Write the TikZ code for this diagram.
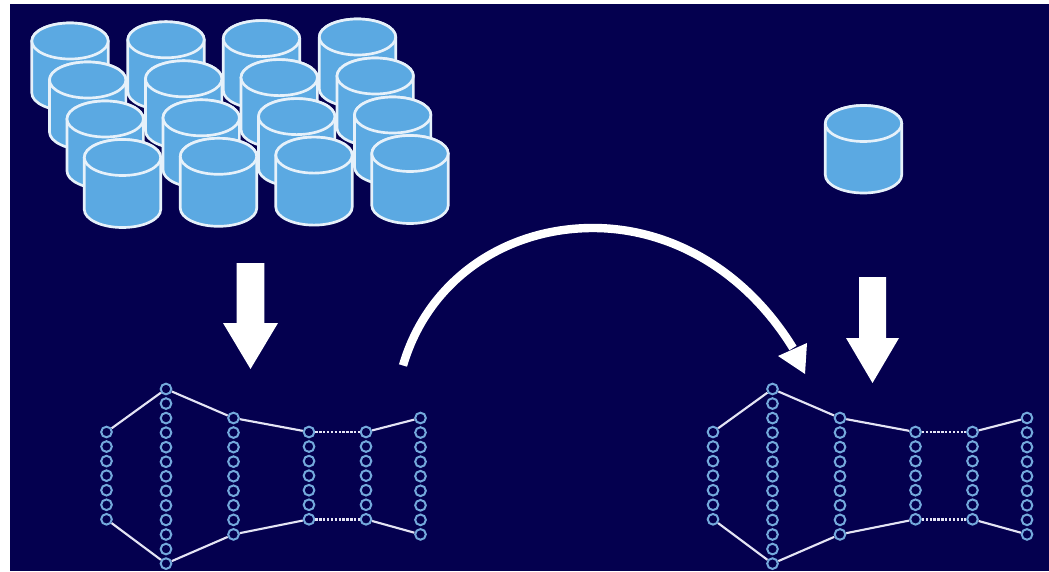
\documentclass[tikz,border=0pt]{standalone}
\definecolor{bgnavy}{HTML}{04004F}
\definecolor{cylblue}{HTML}{5BA9E2}
\definecolor{cylline}{HTML}{E6F1FA}
\definecolor{netblue}{HTML}{74A9DC}
\definecolor{netline}{HTML}{E4E4F4}
\tikzset{
  x=0.75pt,y=-0.75pt,
  neuron/.style={circle,draw=netblue,fill=bgnavy,line width=1.5pt,minimum size=8pt,inner sep=0pt},
  netlink/.style={draw=netline,line width=1.6pt},
  netdash/.style={draw=netline,line width=1.9pt,dash pattern=on 1.8pt off 1.1pt},
  cylbody/.style={fill=cylblue,draw=cylline,line width=2pt,line join=round},
  blockarrow/.style={fill=white,draw=none},
  bigcurve/.style={draw=white,line width=6.3pt}
}
\newcommand{\DrawCyl}[4]{% name, x, y of top centre, y of bottom centre
  \begin{scope}[local bounding box=#1]
  \path[cylbody] (#2-38.2,#3) -- (#2-38.2,#4) arc[start angle=180,end angle=0,x radius=38.2,y radius=18]
     -- (#2+38.2,#3) arc[start angle=0,end angle=-180,x radius=38.2,y radius=18] -- cycle;
  \path[cylbody] (#2,#3) ellipse[x radius=38.2,y radius=18];
  \end{scope}}
\newcommand{\DrawColumn}[5]{% prefix, column, x, count, first y
  \foreach \k in {1,...,#4}
    \node[neuron] (#1#2\k) at (#3,{#5+14.55*(\k-1)}) {};}
\newcommand{\DrawNet}[2]{% prefix, x offset
  \DrawColumn{#1}{a}{#2+106.5}{7}{432}
  \DrawColumn{#1}{b}{#2+166}{13}{389}
  \DrawColumn{#1}{c}{#2+233.5}{9}{418}
  \DrawColumn{#1}{d}{#2+309}{7}{432}
  \DrawColumn{#1}{e}{#2+366}{7}{432}
  \DrawColumn{#1}{f}{#2+420.5}{9}{418}
  \draw[netlink] (#1a1)--(#1b1);
  \draw[netlink] (#1b1)--(#1c1);
  \draw[netlink] (#1c1)--(#1d1);
  \draw[netdash] (#1d1)--(#1e1);
  \draw[netlink] (#1e1)--(#1f1);
  \draw[netlink] (#1a7)--(#1b13);
  \draw[netlink] (#1b13)--(#1c9);
  \draw[netlink] (#1c9)--(#1d7);
  \draw[netdash] (#1d7)--(#1e7);
  \draw[netlink] (#1e7)--(#1f9);}
\begin{document}
\begin{tikzpicture}
\useasboundingbox (0,0) rectangle (1049,571);
\fill[white] (0,0) rectangle (1049,571);
\fill[bgnavy] (10,4) rectangle (1049,571);
% cylinder stack, back row first
\foreach \r/\dx/\yy in {1/0/41,2/17.7/80,3/35.2/119,4/52.5/157.5}{
  \foreach \c/\cx/\dy in {1/70/0,2/166/-1.2,3/261.5/-2.4,4/357.5/-4}{
    \DrawCyl{cyl\r\c}{\cx+\dx}{\yy+\dy}{\yy+\dy+52}
  }
}
\DrawCyl{cylsingle}{863.5}{123.5}{175}
% block arrows
\path[blockarrow] (236.7,263) -- (264.3,263) -- (264.3,323) -- (278,323) -- (250.5,369) -- (223,323) -- (236.7,323) -- cycle;
\path[blockarrow] (859,277) -- (886,277) -- (886,338) -- (899,338) -- (872.5,383) -- (846,338) -- (859,338) -- cycle;
% networks
\DrawNet{l}{0}
\DrawNet{r}{606.5}
% curved arrow
\coordinate (curvestart) at (403,365.5);
\coordinate (curvetop) at (593,228);
\coordinate (curveend) at (793,348);
\coordinate (curvetip) at (805,374);
\draw[bigcurve] (curvestart) .. controls (428,280) and (505,228) .. (curvetop)
   .. controls (670,228) and (745,270) .. (curveend);
\fill[white] (curvetip) -- (778,356) -- (807,343) -- cycle;
\end{tikzpicture}
\end{document}
